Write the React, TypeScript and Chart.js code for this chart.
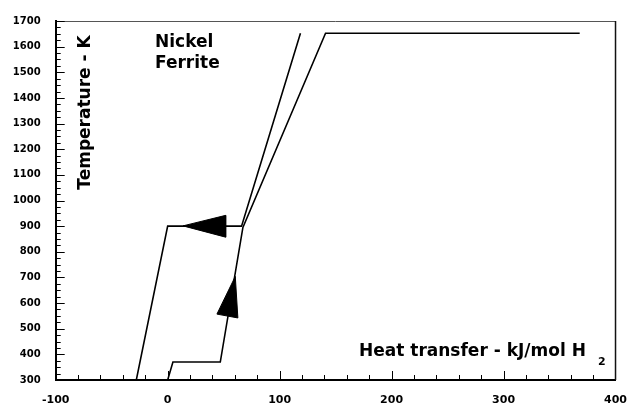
import React, { useEffect, useRef } from 'react';
import { Chart, registerables } from 'chart.js';

Chart.register(...registerables);

// Cooling path (upper/left curve)
const coolingHeat = [-28, 0, 66, 118.6];
const coolingTemp = [300, 900, 900, 1652];
// Heating path (lower/right curve)
const heatingHeat = [0, 4.7, 47, 67.2, 141, 368];
const heatingTemp = [300, 370, 370, 895, 1652, 1652];
// Direction arrows (closed triangles)
const arrowLeftHeat = [13.7, 51.8, 51.8, 13.7];
const arrowLeftTemp = [901, 942, 857, 901];
const arrowUpHeat = [60.4, 44, 62.7, 60.4];
const arrowUpTemp = [704, 557, 542, 704];

const xTickValues = [-100, 0, 100, 200, 300, 400];
const yTickValues = [300, 400, 500, 600, 700, 800, 900, 1000, 1100, 1200, 1300, 1400, 1500, 1600, 1700];
const xMinorStep = 20;
const yMinorStep = 25;

const FONT = '"DejaVu Sans", "Liberation Sans", Arial, sans-serif';

const toPoints = (xs: number[], ys: number[]) => xs.map((v, i) => ({ x: v, y: ys[i] }));

const decorPlugin = {
  id: 'decor',
  afterDraw(chart: any) {
    const { ctx, chartArea, scales } = chart;
    const x = scales.x;
    const y = scales.y;
    ctx.save();
    // top & right frame
    ctx.strokeStyle = '#555';
    ctx.lineWidth = 1;
    ctx.beginPath();
    ctx.moveTo(chartArea.left, chartArea.top + 0.5);
    ctx.lineTo(chartArea.right, chartArea.top + 0.5);
    ctx.stroke();
    ctx.strokeStyle = '#111';
    ctx.lineWidth = 1.5;
    ctx.beginPath();
    ctx.moveTo(chartArea.right, chartArea.top);
    ctx.lineTo(chartArea.right, chartArea.bottom);
    ctx.stroke();

    // inward ticks
    ctx.strokeStyle = '#000';
    ctx.lineWidth = 1;
    const xMin = xTickValues[0];
    const xMax = xTickValues[xTickValues.length - 1];
    for (let v = xMin + xMinorStep; v < xMax; v += xMinorStep) {
      const px = Math.round(x.getPixelForValue(v)) + 0.5;
      const len = v % 100 === 0 ? 9 : 5;
      ctx.beginPath();
      ctx.moveTo(px, chartArea.bottom);
      ctx.lineTo(px, chartArea.bottom - len);
      ctx.stroke();
    }
    const yMin = yTickValues[0];
    const yMax = yTickValues[yTickValues.length - 1];
    for (let v = yMin + yMinorStep; v <= yMax; v += yMinorStep) {
      const py = Math.round(y.getPixelForValue(v)) + 0.5;
      const len = v % 100 === 0 ? 9 : 5;
      ctx.beginPath();
      ctx.moveTo(chartArea.left, py);
      ctx.lineTo(chartArea.left + len, py);
      ctx.stroke();
    }

    // texts
    ctx.fillStyle = '#000';
    ctx.textAlign = 'left';
    ctx.textBaseline = 'alphabetic';
    ctx.font = `bold 17px ${FONT}`;
    ctx.fillText('Nickel', 155, 46.7);
    ctx.fillText('Ferrite', 155, 68.3);
    ctx.fillText('Heat transfer - kJ/mol H', 359, 356);
    ctx.font = `bold 11px ${FONT}`;
    ctx.fillText('2', 598, 365);

    ctx.save();
    ctx.translate(90, 112.5);
    ctx.rotate(-Math.PI / 2);
    ctx.font = `bold 17px ${FONT}`;
    ctx.textAlign = 'center';
    ctx.fillText('Temperature - K', 0, 0);
    ctx.restore();

    ctx.restore();
  },
};

export default function App() {
  const ref = useRef<HTMLCanvasElement | null>(null);
  useEffect(() => {
    document.body.style.margin = '0';
    if (!ref.current) return;
    const lineStyle = {
      showLine: true,
      pointRadius: 0,
      borderColor: '#000',
      borderWidth: 1.6,
      tension: 0,
      fill: false,
    };
    const arrowStyle = {
      showLine: true,
      pointRadius: 0,
      borderColor: '#000',
      backgroundColor: '#000',
      borderWidth: 1,
      tension: 0,
      fill: 'shape',
    };
    const chart = new Chart(ref.current, {
      type: 'scatter',
      data: {
        datasets: [
          { label: 'Cooling', data: toPoints(coolingHeat, coolingTemp), ...lineStyle },
          { label: 'Heating', data: toPoints(heatingHeat, heatingTemp), ...lineStyle },
          { label: 'Arrow left', data: toPoints(arrowLeftHeat, arrowLeftTemp), ...arrowStyle },
          { label: 'Arrow up', data: toPoints(arrowUpHeat, arrowUpTemp), ...arrowStyle },
        ] as any,
      },
      options: {
        animation: false,
        responsive: false,
        layout: { padding: { top: 13.5, right: 24, left: 0, bottom: 0 } },
        plugins: {
          legend: { display: false },
          tooltip: { enabled: false },
        },
        scales: {
          x: {
            type: 'linear',
            min: xTickValues[0],
            max: xTickValues[xTickValues.length - 1],
            afterBuildTicks: (s: any) => {
              s.ticks = xTickValues.map((v) => ({ value: v }));
            },
            afterFit: (s: any) => {
              s.height = 34;
            },
            grid: { display: false, drawTicks: false },
            border: { display: true, color: '#000', width: 2 },
            ticks: {
              color: '#000',
              padding: 14,
              maxRotation: 0,
              callback: (v: any) => String(v),
              font: { family: FONT, size: 11, weight: 'bold' },
            },
          },
          y: {
            type: 'linear',
            min: yTickValues[0],
            max: yTickValues[yTickValues.length - 1],
            afterBuildTicks: (s: any) => {
              s.ticks = yTickValues.map((v) => ({ value: v }));
            },
            afterFit: (s: any) => {
              s.width = 55.7;
            },
            grid: { display: false, drawTicks: false },
            border: { display: true, color: '#000', width: 2 },
            ticks: {
              color: '#000',
              padding: 15,
              callback: (v: any) => String(v),
              font: { family: FONT, size: 10, weight: 'bold' },
            },
          },
        },
      } as any,
      plugins: [decorPlugin],
    });
    return () => chart.destroy();
  }, []);
  return (
    <div style={{ width: 641, height: 414 }}>
      <canvas ref={ref} width={641} height={414} style={{ display: 'block' }} />
    </div>
  );
}
